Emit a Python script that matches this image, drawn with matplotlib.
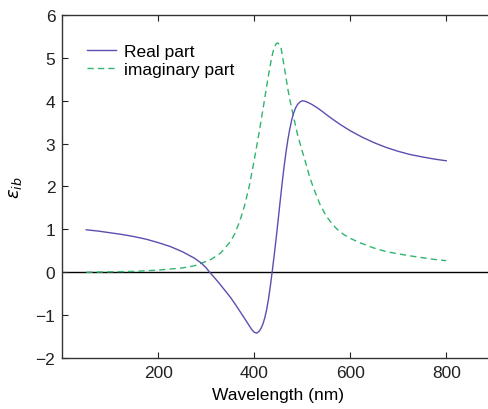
import matplotlib
matplotlib.use("Agg")
import matplotlib.pyplot as plt

plt.rcParams['font.family'] = ['Liberation Sans', 'DejaVu Sans']

real_x = [50, 75, 100, 125, 150, 175, 200, 225, 250, 275, 290, 300, 307, 315, 325, 335, 350,
          360, 370, 380, 388, 395, 400, 405, 410, 414, 418, 422, 426, 430, 434, 438, 442,
          446, 450, 454, 458, 462, 466, 470, 474, 478, 482, 486, 490, 495, 500, 505, 510,
          520, 530, 540, 550, 560, 580, 600, 625, 650, 675, 700, 725, 750, 775, 800]
real_y = [0.99, 0.96, 0.92, 0.88, 0.83, 0.77, 0.69, 0.60, 0.48, 0.33, 0.21, 0.10, 0.0,
          -0.10, -0.23, -0.37, -0.58, -0.74, -0.91, -1.08, -1.22, -1.34, -1.40, -1.42,
          -1.38, -1.31, -1.21, -1.06, -0.86, -0.60, -0.28, 0.07, 0.44, 0.83, 1.24, 1.66,
          2.07, 2.45, 2.79, 3.09, 3.34, 3.55, 3.71, 3.83, 3.91, 3.97, 4.00, 3.99, 3.97,
          3.915, 3.845, 3.765, 3.68, 3.595, 3.44, 3.30, 3.15, 3.02, 2.91, 2.82, 2.745, 2.69,
          2.64, 2.60]

imag_x = [50, 100, 150, 200, 250, 275, 290, 310, 330, 350, 360, 370, 380, 390, 400, 410, 420,
          426, 430, 436, 440, 445, 448, 452, 456, 460, 465, 470, 475, 480, 485, 490, 499,
          505, 516, 525, 537, 550, 560, 572, 585, 600, 620, 648, 675, 700, 720, 750, 775, 800]
imag_y = [0.0, 0.01, 0.02, 0.05, 0.10, 0.15, 0.21, 0.30, 0.45, 0.71, 0.91, 1.20, 1.56,
          2.03, 2.62, 3.25, 3.93, 4.35, 4.62, 4.99, 5.18, 5.32, 5.35, 5.32, 5.22, 4.95,
          4.62, 4.27, 3.98, 3.72, 3.47, 3.22, 2.86, 2.64, 2.20, 1.92, 1.58, 1.31, 1.16,
          1.01, 0.89, 0.79, 0.69, 0.57, 0.48, 0.43, 0.39, 0.34, 0.30, 0.27]

xticks = [200, 400, 600, 800]
yticks = [-2, -1, 0, 1, 2, 3, 4, 5, 6]

fig = plt.figure(figsize=(4.88, 4.10), dpi=100)
ax = fig.add_axes([0.1277, 0.1244, 0.885, 0.8366])

ax.axhline(0, color='black', lw=1.0, zorder=1)
ax.plot(real_x, real_y, color='#5a4fb0', lw=1.0, label='Real part', zorder=3)
ax.plot(imag_x, imag_y, color='#2fb56e', lw=1.0, ls=(0, (4.5, 3)), label='imaginary part', zorder=2)

ax.set_xlim(0, 900)
ax.set_ylim(-2, 6)
ax.set_xticks(xticks)
ax.set_yticks(yticks)
ax.set_yticklabels(['\u22122', '\u22121', '0', '1', '2', '3', '4', '5', '6'])
ax.tick_params(direction='in', length=4, width=0.8, labelsize=12.5, top=True, right=True,
               colors='#222222', pad=5)
for s in ax.spines.values():
    s.set_color('#333333')
    s.set_linewidth(1.0)

ax.set_xlabel('Wavelength (nm)', fontsize=12.5, labelpad=5)
ax.set_ylabel(r'$\varepsilon_{ib}$', fontsize=13, labelpad=8)

leg = ax.legend(loc='upper left', frameon=False, fontsize=12.5, handlelength=1.7,
                handletextpad=0.45, labelspacing=0.15, bbox_to_anchor=(0.02, 0.96))

fig.savefig('out.png', dpi=100)
